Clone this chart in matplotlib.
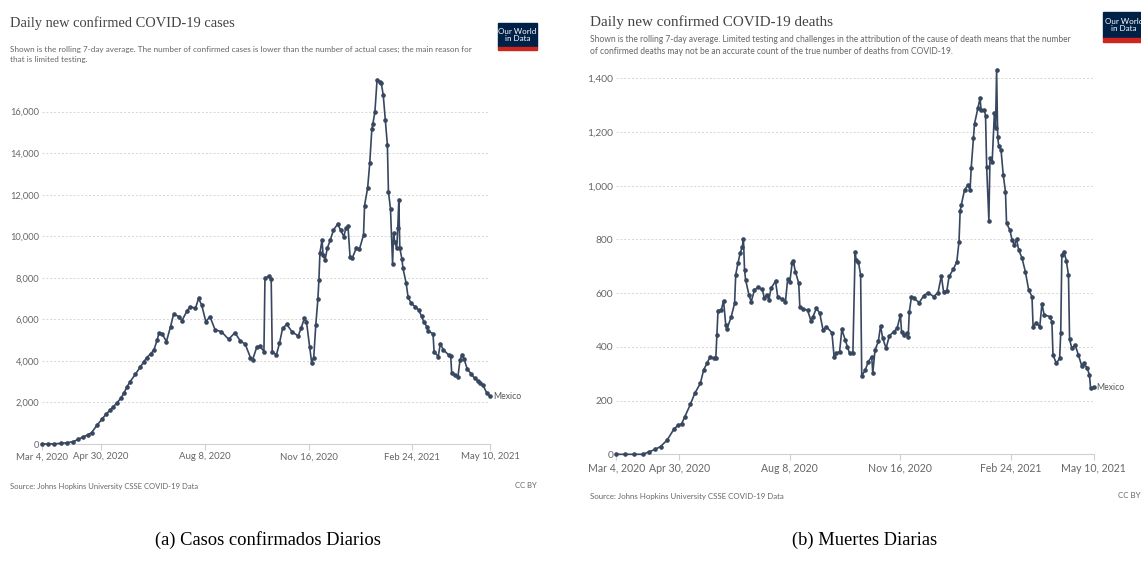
import matplotlib.pyplot as plt
from matplotlib.patches import Rectangle

W, H = 1141, 563

tick_days = [0, 57, 157, 257, 357, 432]
tick_labels = ["Mar 4, 2020", "Apr 30, 2020", "Aug 8, 2020",
               "Nov 16, 2020", "Feb 24, 2021", "May 10, 2021"]

# days since Mar 4, 2020 -> 7-day avg of daily cases (Mexico)
cases_day = [0, 6, 12, 18, 24, 30, 35, 40, 44, 48, 53, 58, 62, 66, 69, 72,
             76, 79, 82, 85, 90, 95, 98, 101, 105, 108, 111, 113, 116, 120,
             124, 127, 132, 135, 140, 143, 148, 151, 154, 158, 162, 167, 173,
             180, 186, 191, 196, 201, 203, 207, 210, 214, 215, 219, 221, 222,
             226, 229, 232, 236, 241, 247, 250, 253, 255, 258, 260, 262, 264,
             266, 267, 268, 270, 271, 273, 275, 278, 281, 285, 288, 291, 293,
             295, 297, 299, 303, 306, 310, 311, 314, 316, 318, 319, 321, 323,
             326, 327, 329, 331, 333, 334, 336, 338, 339, 340, 342, 343, 344,
             345, 347, 348, 351, 353, 356, 360, 363, 366, 368, 371, 372, 377,
             378, 382, 384, 387, 392, 394, 395, 398, 401, 403, 405, 407, 410,
             414, 417, 420, 422, 425, 429, 432]
cases_val = [0, 0, 10, 30, 60, 110, 220, 350, 430, 550, 900, 1200, 1450,
             1640, 1800, 1960, 2200, 2440, 2750, 3000, 3350, 3720, 3950, 4160,
             4350, 4530, 5000, 5360, 5300, 4930, 5650, 6260, 6130, 5940, 6420,
             6610, 6530, 7010, 6690, 5890, 6130, 5490, 5410, 5040, 5360, 4980,
             4800, 4160, 4040, 4650, 4720, 4450, 7980, 8090, 7950, 4450, 4290,
             4850, 5570, 5760, 5410, 5200, 5600, 6050, 5890, 4690, 3920, 4160,
             5730, 6970, 7900, 9210, 9820, 9100, 8860, 9420, 9820, 10300,
             10580, 10300, 9980, 10390, 10500, 9020, 8940, 9420, 9370, 10060,
             11480, 12340, 13520, 15150, 15410, 16000, 17500, 17450, 17400,
             16800, 15600, 14400, 12150, 11320, 8670, 10140, 9740, 9420,
             10390, 11750, 9420, 8910, 8460, 7770, 7060, 6770, 6600, 6450,
             6150, 5890, 5650, 5460, 5300, 4450, 4210, 4820, 4530, 4290, 4240,
             3430, 3320, 3240, 4040, 4290, 4080, 3600, 3370, 3160, 3050, 2950,
             2840, 2440, 2310]

# days since Mar 4, 2020 -> 7-day avg of daily deaths (Mexico)
deaths_day = [0, 8, 16, 24, 30, 35, 40, 46, 52, 56, 59, 62, 67, 71, 76, 79,
              82, 85, 88, 90, 91, 92, 95, 97, 99, 100, 104, 107, 108, 110,
              112, 114, 115, 116, 117, 120, 122, 125, 128, 132, 134, 136, 138,
              140, 144, 146, 150, 153, 155, 157, 159, 160, 162, 165, 166, 169,
              173, 176, 178, 181, 184, 187, 190, 195, 197, 199, 202, 204, 207,
              209, 211, 214, 216, 217, 219, 221, 222, 225, 228, 231, 232, 234,
              237, 239, 241, 244, 247, 251, 254, 257, 258, 260, 263, 264, 265,
              267, 269, 274, 278, 282, 287, 291, 294, 296, 299, 301, 305, 308,
              310, 311, 312, 315, 318, 320, 321, 323, 324, 327, 329, 330, 333,
              334, 335, 337, 338, 340, 342, 343, 344, 345, 346, 348, 350, 352,
              353, 356, 358, 360, 362, 364, 367, 370, 373, 376, 377, 380, 383,
              385, 387, 392, 394, 395, 398, 401, 402, 403, 405, 407, 409, 410,
              412, 415, 418, 421, 423, 426, 428, 429, 432]
deaths_val = [0, 0, 0, 0, 10, 18, 29, 53, 93, 109, 113, 140, 186, 227, 264,
              314, 339, 364, 357, 357, 444, 535, 537, 572, 482, 465, 513, 562,
              668, 711, 748, 773, 802, 686, 649, 593, 568, 612, 622, 614, 581,
              593, 575, 618, 645, 587, 577, 568, 652, 643, 711, 721, 680, 637,
              550, 540, 537, 498, 513, 544, 525, 463, 475, 453, 364, 376, 382,
              465, 426, 401, 376, 376, 752, 724, 715, 668, 292, 312, 345, 364,
              302, 388, 420, 478, 432, 395, 441, 457, 469, 519, 457, 444, 451,
              436, 529, 587, 581, 565, 590, 602, 587, 602, 664, 606, 609, 662,
              690, 717, 792, 904, 928, 984, 1003, 984, 1065, 1177, 1230, 1288,
              1326, 1282, 1280, 1260, 1071, 870, 1102, 1090, 1272, 1214, 1429,
              1180, 1146, 1133, 1040, 978, 860, 835, 798, 779, 800, 761, 730,
              680, 612, 587, 475, 490, 473, 560, 519, 513, 494, 370, 339, 357,
              451, 742, 755, 721, 668, 428, 395, 407, 370, 329, 339, 320, 295,
              246, 249]

LINE = "#37475f"
GRAY = "#666666"

plt.rcParams["font.family"] = ["Lato", "DejaVu Sans"]

fig = plt.figure(figsize=(W / 100, H / 100), dpi=100)


def box(x0, y0, x1, y1):
    return [x0 / W, 1 - y1 / H, (x1 - x0) / W, (y1 - y0) / H]


def px(x, y):
    return x / W, 1 - y / H


def panel(rect, days, vals, yticks, ymax, xsize):
    ax = fig.add_axes(rect)
    ax.patch.set_alpha(0)
    ax.plot(days, vals, color=LINE, lw=1.2, marker="o", ms=2.3,
            clip_on=False, zorder=3)
    ax.set_xlim(0, 432)
    ax.set_ylim(0, ymax)
    ax.set_yticks(yticks, [f"{v:,}" for v in yticks])
    ax.set_xticks(tick_days, tick_labels)
    for s in ["top", "right", "left"]:
        ax.spines[s].set_visible(False)
    ax.spines["bottom"].set_color("#d0d0d0")
    ax.grid(axis="y", color="#d6d6d6", ls=(0, (2, 2)), lw=0.7)
    ax.set_axisbelow(True)
    ax.tick_params(axis="y", length=0, pad=2, labelsize=xsize - 0.2,
                   labelcolor=GRAY)
    ax.tick_params(axis="x", length=4, color="#d0d0d0", pad=2,
                   labelsize=xsize, labelcolor=GRAY)
    ax.annotate("Mexico", (days[-1], vals[-1]), xytext=(2, 0),
                textcoords="offset points", va="center", fontsize=6.2,
                color="#555555")
    return ax


def logo(x0, y0, x1, y1, red):
    fig.add_artist(Rectangle(px(x0, y1), (x1 - x0) / W, (y1 - y0) / H,
                             transform=fig.transFigure, color="#002147"))
    fig.add_artist(Rectangle(px(x0, y1 + red), (x1 - x0) / W, red / H,
                             transform=fig.transFigure, color="#ce261e"))
    cx, cy = px((x0 + x1) / 2, (y0 + y1) / 2)
    fig.text(cx, cy, "Our World\nin Data", color="white", fontsize=5.8,
             ha="center", va="center", linespacing=1.0)


# (a) cases
panel(box(41.9, 78.4, 490.1, 444), cases_day, cases_val,
      list(range(0, 16001, 2000)), 17600, 6.9)
fig.text(*px(10, 27), "Daily new confirmed COVID-19 cases",
         family="Liberation Serif", fontsize=10.4, color="#444444")
fig.text(*px(10, 62),
         "Shown is the rolling 7-day average. The number of confirmed cases "
         "is lower than the number of actual cases; the main reason for\n"
         "that is limited testing.",
         fontsize=5.85, color=GRAY, linespacing=1.55)
logo(498, 23, 537, 47, 3)
fig.text(*px(10, 486), "Source: Johns Hopkins University CSSE COVID-19 Data",
         fontsize=5.5, color=GRAY, va="center")
fig.text(*px(537, 486), "CC BY", fontsize=5.5, color=GRAY, va="center",
         ha="right")
fig.text(*px(268, 540), "(a) Casos confirmados Diarios",
         family="Liberation Serif", fontsize=13.3, ha="center", va="center")

# (b) deaths
panel(box(616.3, 70.2, 1093.9, 454.3), deaths_day, deaths_val,
      list(range(0, 1401, 200)), 1430, 7.6)
fig.text(*px(590, 26), "Daily new confirmed COVID-19 deaths",
         family="Liberation Serif", fontsize=10.9, color="#444444")
fig.text(*px(590, 54),
         "Shown is the rolling 7-day average. Limited testing and challenges "
         "in the attribution of the cause of death means that the number\n"
         "of confirmed deaths may not be an accurate count of the true number "
         "of deaths from COVID-19.",
         fontsize=6.15, color=GRAY, linespacing=1.5)
logo(1103, 12, 1145, 38, 4)
fig.text(*px(590, 496), "Source: Johns Hopkins University CSSE COVID-19 Data",
         fontsize=5.7, color=GRAY, va="center")
fig.text(*px(1141, 496), "CC BY", fontsize=5.7, color=GRAY, va="center",
         ha="right")
fig.text(*px(865, 540), "(b) Muertes Diarias",
         family="Liberation Serif", fontsize=13.3, ha="center", va="center")

fig.savefig("out.png", dpi=100)
